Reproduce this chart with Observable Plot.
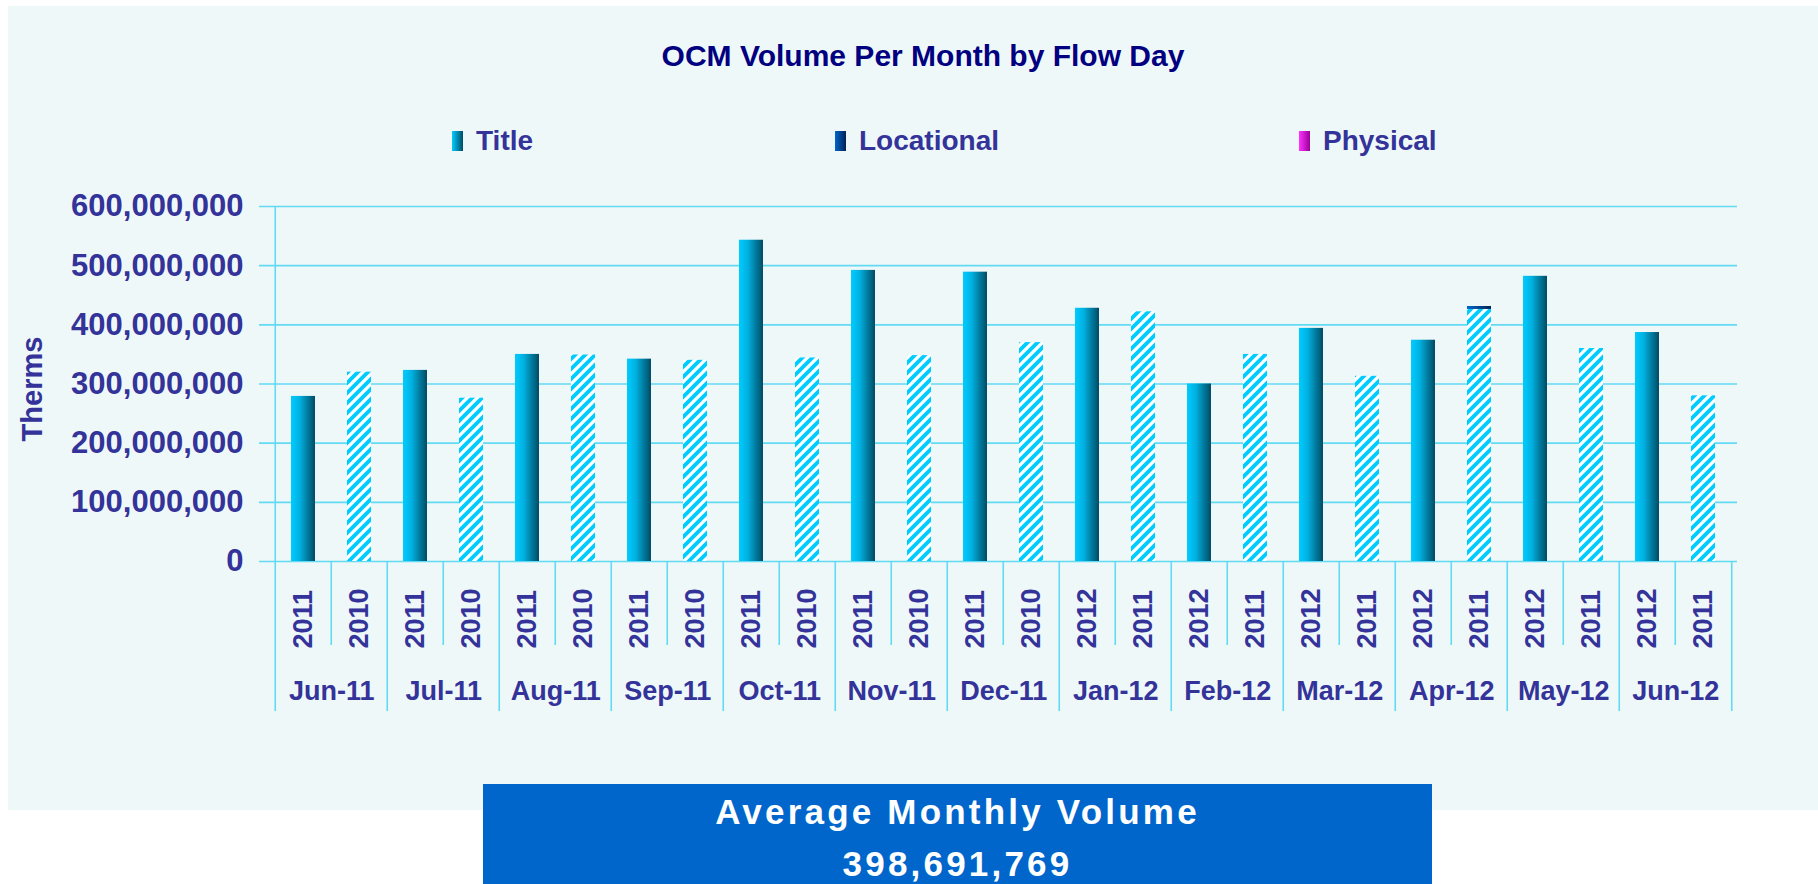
<!DOCTYPE html>
<html>
<head>
<meta charset="utf-8">
<script src="https://cdn.jsdelivr.net/npm/d3@7"></script>
<script src="https://cdn.jsdelivr.net/npm/@observablehq/plot@0.6"></script>
<style>
  html, body { margin: 0; padding: 0; overflow: hidden; background: #ffffff; }
  body { width: 1818px; height: 884px; position: relative; font-family: "Liberation Sans", Arial, Helvetica, sans-serif; }
  #bg { position: absolute; left: 8px; top: 6px; width: 1810px; height: 804px; background: #EFF8F9; }
  #title { position: absolute; left: 923px; top: 38px; transform: translateX(-50%); white-space: nowrap;
           font-size: 30px; line-height: 36px; font-weight: bold; color: #000080; }
  .lg-sw { position: absolute; top: 131px; width: 11px; height: 20px; }
  .lg-tx { position: absolute; top: 126px; font-size: 28px; line-height: 30px; font-weight: bold; color: #333399; white-space: nowrap; }
  #chart { position: absolute; left: 0; top: 160px; }
  #box { position: absolute; left: 483px; top: 784px; width: 949px; height: 100px; background: #0066CC;
         color: #ffffff; font-weight: bold; font-size: 35px; letter-spacing: 3.2px; text-align: center; }
  #box div { line-height: 52px; }
</style>
</head>
<body>
<div id="bg"></div>
<div id="title">OCM Volume Per Month by Flow Day</div>
<div id="legend"></div>
<div id="chart"></div>
<div id="box"><div style="padding-top:2px" id="avgLabel"></div><div id="avgValue"></div></div>
<script>
// ---------------- data ----------------
const months = ["Jun-11", "Jul-11", "Aug-11", "Sep-11", "Oct-11", "Nov-11", "Dec-11",
                "Jan-12", "Feb-12", "Mar-12", "Apr-12", "May-12", "Jun-12"];
const currentYears = ["2011", "2011", "2011", "2011", "2011", "2011", "2011",
                      "2012", "2012", "2012", "2012", "2012", "2012"];
const priorYears = ["2010", "2010", "2010", "2010", "2010", "2010", "2010",
                    "2011", "2011", "2011", "2011", "2011", "2011"];
const titleCurrent = [279e6, 323e6, 350e6, 342e6, 543e6, 492e6, 489e6,
                      428e6, 300e6, 394e6, 374e6, 482e6, 387e6];
const titlePrior = [320e6, 276e6, 349e6, 340e6, 344e6, 348e6, 370e6,
                    422e6, 350e6, 313e6, 426e6, 360e6, 280e6];
const locationalCurrent = [0, 0, 0, 0, 0, 0, 0, 0, 0, 0, 0, 0, 0];
const locationalPrior = [0, 0, 0, 0, 0, 0, 0, 0, 0, 0, 5e6, 0, 0];
const physicalCurrent = [0, 0, 0, 0, 0, 0, 0, 0, 0, 0, 0, 0, 0];
const physicalPrior = [0, 0, 0, 0, 0, 0, 0, 0, 0, 0, 0, 0, 0];
const seriesNames = ["Title", "Locational", "Physical"];
const yTicks = [0, 100e6, 200e6, 300e6, 400e6, 500e6, 600e6];
const chartTitle = "OCM Volume Per Month by Flow Day";
const yLabel = "Therms";
const averageLabel = "Average Monthly Volume";
const averageValue = 398691769;

// ---------------- build tables ----------------
const slots = [];
const slotRows = [];
months.forEach((m, i) => {
  slots.push(m + "|cur", m + "|prev");
  slotRows.push({slot: m + "|cur", month: m, kind: "cur", year: currentYears[i]});
  slotRows.push({slot: m + "|prev", month: m, kind: "prev", year: priorYears[i]});
});
const rows = [];
months.forEach((m, i) => {
  const add = (kind, series, value) => { if (value > 0) rows.push({slot: m + "|" + kind, kind, series, value}); };
  add("cur", "Title", titleCurrent[i]);
  add("cur", "Locational", locationalCurrent[i]);
  add("cur", "Physical", physicalCurrent[i]);
  add("prev", "Title", titlePrior[i]);
  add("prev", "Locational", locationalPrior[i]);
  add("prev", "Physical", physicalPrior[i]);
});

const fillFor = d => d.series === "Title" ? (d.kind === "cur" ? "url(#gTitle)" : "url(#hatch)")
                   : d.series === "Locational" ? "url(#gLoc)" : "url(#gPhys)";

// ---------------- layout ----------------
const W = 1818, H = 570, mL = 268, mR = 81, mT = 46, mB = 169;
const step = (W - mL - mR) / slots.length;
const txt = "#333399";
const grid = "#62DAF4";
const FONT = '"Liberation Sans", Arial, Helvetica, sans-serif';

const defsMark = () => {
  const defs = d3.create("svg:defs");
  const lg = (id, stops) => {
    const g = defs.append("linearGradient").attr("id", id).attr("x1", 0).attr("x2", 1).attr("y1", 0).attr("y2", 0);
    stops.forEach(([o, c]) => g.append("stop").attr("offset", o).attr("stop-color", c));
  };
  lg("gTitle", [[0, "#00CCFF"], [0.35, "#00B2E2"], [1, "#004C64"]]);
  lg("gLoc", [[0, "#0066CC"], [1, "#002255"]]);
  lg("gPhys", [[0, "#FF33FF"], [1, "#990099"]]);
  const p = defs.append("pattern").attr("id", "hatch").attr("patternUnits", "userSpaceOnUse")
    .attr("width", 10).attr("height", 10);
  p.append("rect").attr("width", 10).attr("height", 10).attr("fill", "#ffffff");
  p.append("path").attr("d", "M-2.5,2.5 L2.5,-2.5 M0,10 L10,0 M7.5,12.5 L12.5,7.5")
    .attr("stroke", "#00CCFF").attr("stroke-width", 3.8);
  return defs.node();
};

const firstSlot = [slots[0]];
const lastSlot = [slots[slots.length - 1]];
const majorSlots = slotRows.filter(d => d.kind === "cur" && d.slot !== slots[0]).map(d => d.slot);
const minorSlots = slotRows.filter(d => d.kind === "prev").map(d => d.slot);

const plot = Plot.plot({
  width: W, height: H,
  marginLeft: mL, marginRight: mR, marginTop: mT, marginBottom: mB,
  style: {background: "transparent", overflow: "visible", fontFamily: FONT},
  x: {type: "band", domain: slots, paddingInner: 0.58, paddingOuter: 0.29, axis: null},
  y: {domain: [0, 600e6], axis: null},
  color: {type: "identity"},
  marks: [
    defsMark,
    Plot.ruleY(yTicks, {y: d => d, stroke: grid, strokeWidth: 1.6, insetLeft: -9}),
    Plot.barY(rows, {x: "slot", y: "value", fill: fillFor, order: null}),
    // left axis line, extending into the category table
    Plot.ruleX(firstSlot, {x: d => d, dx: -step / 2, y1: 600e6, y2: 0, insetBottom: -150, stroke: grid, strokeWidth: 1.6}),
    Plot.ruleX(majorSlots, {x: d => d, dx: -step / 2, y1: 0, y2: 0, insetBottom: -150, stroke: grid, strokeWidth: 1.6}),
    Plot.ruleX(lastSlot, {x: d => d, dx: step / 2, y1: 0, y2: 0, insetBottom: -150, stroke: grid, strokeWidth: 1.6}),
    Plot.ruleX(minorSlots, {x: d => d, dx: -step / 2, y1: 0, y2: 0, insetBottom: -84, stroke: grid, strokeWidth: 1.6}),
    // y tick labels
    Plot.text(yTicks, {y: d => d, frameAnchor: "left", dx: -25, textAnchor: "end",
      text: d => d3.format(",")(d), fill: txt, fontSize: 31, fontWeight: "bold"}),
    // y label
    Plot.text([yLabel], {y: 300e6, frameAnchor: "left", textAnchor: "middle", dx: -236, dy: 5, rotate: -90, text: d => d,
      fill: txt, fontSize: 29, fontWeight: "bold"}),
    // year labels
    Plot.text(slotRows, {x: "slot", y: 0, text: "year", rotate: -90, textAnchor: "start", dy: 87,
      fill: txt, fontSize: 27, fontWeight: "bold"}),
    // month labels
    Plot.text(slotRows.filter(d => d.kind === "cur"), {x: "slot", y: 0, text: "month", dx: step / 2, dy: 130,
      fill: txt, fontSize: 27, fontWeight: "bold"})
  ]
});
document.getElementById("chart").appendChild(plot);

// legend
const legend = document.getElementById("legend");
const swatchCss = {
  Title: "linear-gradient(to right, #00CCFF, #004C64)",
  Locational: "linear-gradient(to right, #0066CC, #002255)",
  Physical: "linear-gradient(to right, #FF33FF, #990099)"
};
const legendX = {Title: 452, Locational: 835, Physical: 1299};
seriesNames.forEach(s => {
  const sw = document.createElement("div");
  sw.className = "lg-sw"; sw.style.left = legendX[s] + "px"; sw.style.background = swatchCss[s];
  const tx = document.createElement("div");
  tx.className = "lg-tx"; tx.style.left = (legendX[s] + 24) + "px"; tx.textContent = s;
  legend.appendChild(sw); legend.appendChild(tx);
});
document.getElementById("title").textContent = chartTitle;
document.getElementById("avgLabel").textContent = averageLabel;
document.getElementById("avgValue").textContent = d3.format(",")(averageValue);
</script>
</body>
</html>
